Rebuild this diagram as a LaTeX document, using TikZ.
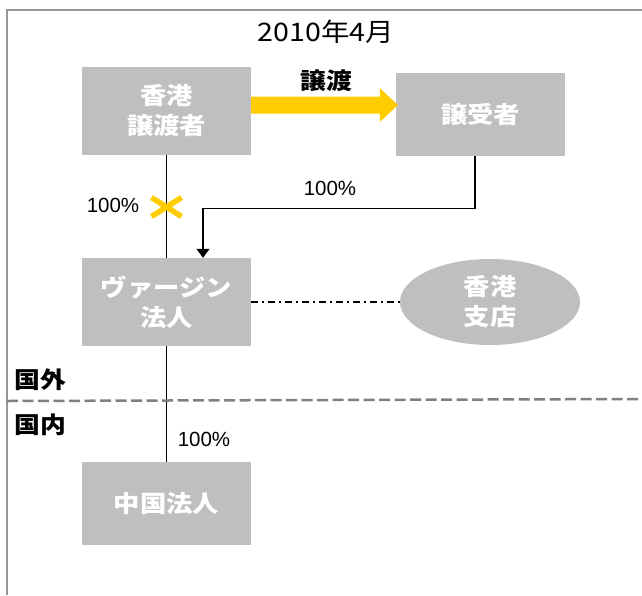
\documentclass[tikz,border=0pt]{standalone}
\usepackage{fontspec}
\setmainfont{Noto Sans CJK JP}[FakeStretch=1.12]
\newfontfamily\latinf{Liberation Sans}
\usetikzlibrary{calc,arrows.meta,shapes.geometric}
\definecolor{boxgray}{RGB}{191,191,191}
\definecolor{ylw}{RGB}{255,204,0}
\definecolor{frame}{RGB}{150,150,150}
\definecolor{dashg}{RGB}{128,128,128}
\tikzset{
  entity/.style={fill=boxgray, draw=none, minimum width=169pt, inner sep=0pt, align=center,
     text=white, font=\fontsize{23.5}{30}\selectfont\bfseries},
  pct/.style={font=\latinf\fontsize{20.5}{22}\selectfont, inner sep=0pt},
  zone/.style={font=\fontsize{23}{26}\selectfont\bfseries, inner sep=0pt},
  link/.style={draw=black, line width=1.3pt},
}
\begin{document}
\begin{tikzpicture}[x=1pt,y=-1pt]
\useasboundingbox (0,0) rectangle (642,595);
% frame
\draw[frame, line width=2pt] (7,595) -- (7,10) -- (642,10);
% title
\node[font=\fontsize{25.5}{28}\selectfont] (title) at (326,32) {2010年4月};
% nodes
\node[entity, minimum height=88pt] (a) at (166.5,111) {香港\\譲渡者};
\node[entity, minimum height=83pt] (b) at (480.5,114.5) {譲受者};
\node[entity, minimum height=88pt] (c) at (166.5,302) {ヴァージン\\法人};
\node[ellipse, fill=boxgray, minimum width=180pt, minimum height=86pt, inner sep=0pt, align=center,
      text=white, font=\fontsize{23.5}{30}\selectfont\bfseries] (d) at (490,302) {香港\\支店};
\node[entity, minimum height=83pt] (e) at (166.5,503.5) {中国法人};
% transfer arrow
\coordinate (ys) at ($(a.east)+(0,-6)$);
\coordinate (ye) at ($(b.west|-ys)+(2,0)$);
\fill[ylw] ($(ys)+(0,-8.5)$) -- ($(ye)+(-18,-8.5)$) -- ($(ye)+(-18,-17)$) -- (ye)
   -- ($(ye)+(-18,17)$) -- ($(ye)+(-18,8.5)$) -- ($(ys)+(0,8.5)$) -- cycle;
\node[font=\fontsize{23}{26}\selectfont\bfseries] (tl) at (326,81) {譲渡};
% ownership lines
\draw[link] (a.south) -- (c.north);
\coordinate (xc) at (166.5,207);
\draw[ylw, line width=5.5pt] ($(xc)+(-15,-9.5)$) -- ($(xc)+(15,9.5)$);
\draw[ylw, line width=5.5pt] ($(xc)+(-15,9.5)$) -- ($(xc)+(15,-9.5)$);
\node[pct] (p1) at (113,205) {100\%};
\draw[link, -{Triangle[length=9pt,width=13pt]}] ([xshift=-5.5pt]b.south) -- ++(0,52) -| ([xshift=36.5pt]c.north);
\node[pct] (p2) at (330,188) {100\%};
\draw[link, dash pattern=on 7pt off 4pt on 2pt off 4pt] (c.east) -- (d.west);
\draw[link] (c.south) -- (e.north);
\node[pct] (p3) at (204,439) {100\%};
% domestic / overseas divider
\draw[dashg, line width=2.5pt, dash pattern=on 11pt off 4.5pt] (7,401) -- (642,399);
\node[zone] (z1) at (40,380) {国外};
\node[zone] (z2) at (40,425) {国内};
\end{tikzpicture}
\end{document}
